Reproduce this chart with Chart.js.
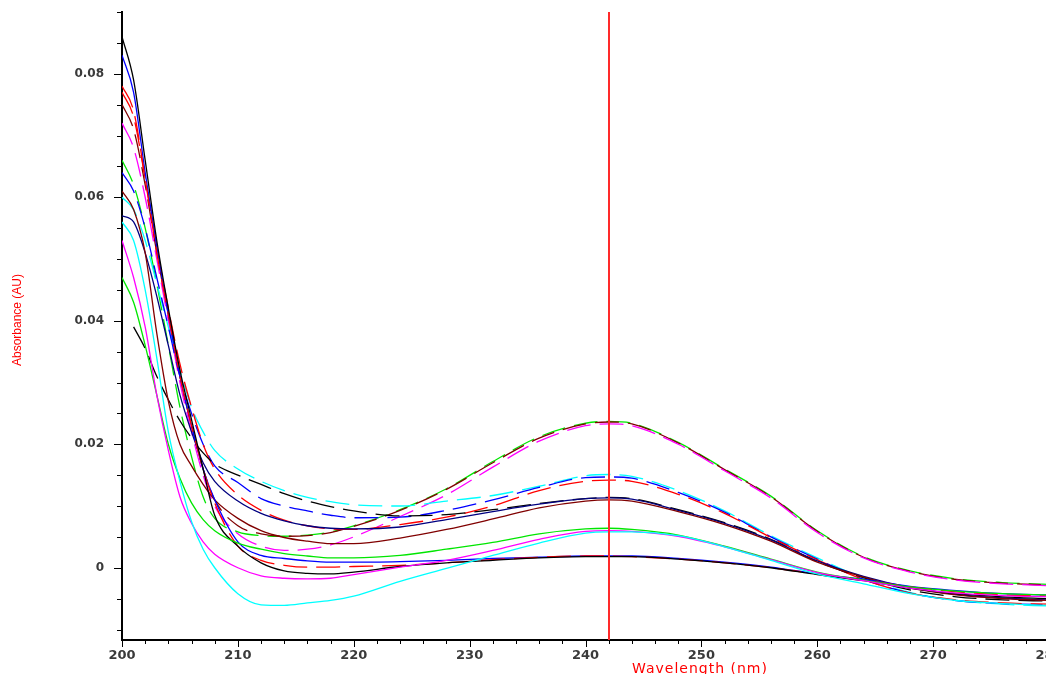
<!DOCTYPE html>
<html>
<head>
<meta charset="utf-8">
<title>UV spectra</title>
<script src="https://cdn.jsdelivr.net/npm/chart.js@4.4.1/dist/chart.umd.min.js"></script>
<style>
  html, body { margin: 0; padding: 0; background: #fff; overflow: hidden; }
  #wrap { width: 1046px; height: 674px; overflow: hidden; }
</style>
</head>
<body>
<div id="wrap"><canvas id="spectra" width="1052" height="682"></canvas></div>
<script>
// Overlay of UV absorbance spectra, cursor at 242 nm

const wavelengths = [200, 201, 202, 203, 204, 205, 206, 207, 208, 210, 212, 214, 216, 218, 220,
  224, 228, 232, 236, 240, 242, 244, 248, 252, 256, 260, 264, 268, 272, 276, 280];

// peak ~0.024
const greenDashed = [0.066, 0.062, 0.055, 0.046, 0.036, 0.026, 0.018, 0.0115, 0.0080, 0.0058, 0.0052, 0.0051, 0.0053, 0.0058, 0.0068,
  0.0094, 0.0128, 0.0172, 0.0212, 0.0234, 0.0237, 0.0234, 0.0203, 0.0160, 0.0116, 0.0060, 0.0018, -0.0005, -0.0018, -0.0024, -0.0027];
const brownDashed = [0.075, 0.071, 0.062, 0.051, 0.041, 0.031, 0.023, 0.016, 0.011, 0.0068, 0.0055, 0.0051, 0.0052, 0.0057, 0.0067,
  0.0093, 0.0127, 0.0170, 0.0210, 0.0233, 0.0236, 0.0233, 0.0202, 0.0159, 0.0115, 0.0059, 0.0017, -0.0006, -0.0019, -0.0025, -0.0028];
const magentaDashed = [0.072, 0.068, 0.060, 0.050, 0.040, 0.030, 0.022, 0.015, 0.010, 0.0055, 0.0035, 0.0028, 0.0030, 0.0037, 0.0050,
  0.0083, 0.0118, 0.0163, 0.0205, 0.0230, 0.0233, 0.0230, 0.0200, 0.0157, 0.0113, 0.0057, 0.0016, -0.0007, -0.0020, -0.0026, -0.0029];

// peak ~0.015
const cyanDashed = [0.060, 0.058, 0.053, 0.046, 0.039, 0.032, 0.026, 0.022, 0.019, 0.0160, 0.0140, 0.0125, 0.0114, 0.0107, 0.0102,
  0.0100, 0.0108, 0.0117, 0.0132, 0.0149, 0.0151, 0.0148, 0.0125, 0.0092, 0.0052, 0.0016, -0.0017, -0.0040, -0.0053, -0.0059, -0.0062];
const blueDashed = [0.064, 0.061, 0.055, 0.047, 0.039, 0.031, 0.025, 0.020, 0.0165, 0.0138, 0.0112, 0.0100, 0.0092, 0.0085, 0.0081,
  0.0082, 0.0093, 0.0110, 0.0130, 0.0146, 0.0147, 0.0145, 0.0122, 0.0090, 0.0050, 0.0014, -0.0019, -0.0041, -0.0053, -0.0058, -0.0060];
const redUpper = [0.077, 0.073, 0.063, 0.052, 0.042, 0.033, 0.026, 0.020, 0.016, 0.0118, 0.0093, 0.0077, 0.0068, 0.0063, 0.0062,
  0.0070, 0.0082, 0.0100, 0.0125, 0.0140, 0.0142, 0.0140, 0.0119, 0.0088, 0.0049, 0.0013, -0.0019, -0.0041, -0.0052, -0.0057, -0.0059];

// peak ~0.011
const navy = [0.057, 0.056, 0.051, 0.044, 0.036, 0.028, 0.022, 0.017, 0.014, 0.0108, 0.0088, 0.0076, 0.0068, 0.0064, 0.0063,
  0.0066, 0.0078, 0.0091, 0.0103, 0.0112, 0.0113, 0.0111, 0.0093, 0.0072, 0.0045, 0.0011, -0.0014, -0.0032, -0.0043, -0.0049, -0.0052];
const brown = [0.061, 0.058, 0.051, 0.038, 0.027, 0.020, 0.0165, 0.0135, 0.011, 0.0080, 0.0060, 0.0049, 0.0043, 0.0039, 0.0039,
  0.0048, 0.0062, 0.0079, 0.0097, 0.0108, 0.0110, 0.0108, 0.0091, 0.0070, 0.0043, 0.0009, -0.0015, -0.0033, -0.0044, -0.0050, -0.0053];
const blackDashed = [null, 0.0390, 0.0355, 0.0310, 0.0272, 0.0238, 0.0210, 0.0186, 0.0168, 0.0150, 0.0135, 0.0120, 0.0108, 0.0099, 0.0092,
  0.0084, 0.0086, 0.0094, 0.0104, 0.0112, 0.0114, 0.0112, 0.0094, 0.0073, 0.0046, 0.0010, -0.0016, -0.0036, -0.0047, -0.0052, -0.0054];

// peak ~0.006
const green = [0.047, 0.043, 0.036, 0.028, 0.020, 0.0145, 0.0105, 0.0078, 0.0060, 0.0040, 0.0030, 0.0023, 0.0019, 0.0016, 0.0016,
  0.0020, 0.0030, 0.0041, 0.0055, 0.0063, 0.0064, 0.0062, 0.0053, 0.0035, 0.0014, -0.0007, -0.0020, -0.0031, -0.0038, -0.0042, -0.0044];
const magenta = [0.053, 0.047, 0.039, 0.028, 0.019, 0.0115, 0.0072, 0.0042, 0.0022, 0.0000, -0.0013, -0.0017, -0.0018, -0.0017, -0.0011,
  0.0001, 0.0012, 0.0028, 0.0046, 0.0059, 0.0060, 0.0059, 0.0051, 0.0034, 0.0013, -0.0008, -0.0021, -0.0033, -0.0041, -0.0045, -0.0047];
const cyan = [0.056, 0.053, 0.045, 0.034, 0.022, 0.014, 0.0075, 0.0030, 0.0000, -0.0042, -0.0060, -0.0061, -0.0057, -0.0053, -0.0046,
  -0.0022, -0.0001, 0.0020, 0.0040, 0.0056, 0.0058, 0.0058, 0.0052, 0.0034, 0.0012, -0.0010, -0.0026, -0.0042, -0.0053, -0.0058, -0.0061];

// peak ~0.002
const black = [0.086, 0.079, 0.066, 0.053, 0.042, 0.032, 0.024, 0.016, 0.0085, 0.0035, 0.0008, -0.0005, -0.0009, -0.0010, -0.0007,
  0.0002, 0.0008, 0.0012, 0.0016, 0.0018, 0.0018, 0.0018, 0.0014, 0.0008, 0.0000, -0.0011, -0.0021, -0.0033, -0.0042, -0.0047, -0.0050];
const blue = [0.083, 0.077, 0.064, 0.052, 0.041, 0.031, 0.023, 0.016, 0.011, 0.0042, 0.0020, 0.0015, 0.0011, 0.0009, 0.0009,
  0.0010, 0.0012, 0.0015, 0.0017, 0.0019, 0.0019, 0.0019, 0.0015, 0.0009, 0.0001, -0.0010, -0.0019, -0.0030, -0.0037, -0.0042, -0.0044];
const redLower = [0.078, 0.074, 0.063, 0.051, 0.041, 0.031, 0.023, 0.016, 0.0105, 0.0035, 0.0012, 0.0004, 0.0001, 0.0001, 0.0002,
  0.0004, 0.0008, 0.0013, 0.0017, 0.0019, 0.0019, 0.0018, 0.0014, 0.0008, 0.0000, -0.0010, -0.0020, -0.0031, -0.0039, -0.0044, -0.0046];

const xTickValues = [200, 210, 220, 230, 240, 250, 260, 270, 280];
const yTickValues = [0, 0.02, 0.04, 0.06, 0.08];
const cursorNm = 242;

const traces = [
  { data: cyan, color: '#00ffff', dashed: false },
  { data: magenta, color: '#ff00ff', dashed: false },
  { data: green, color: '#00e600', dashed: false },
  { data: black, color: '#000000', dashed: false },
  { data: redLower, color: '#ff0000', dashed: true },
  { data: blue, color: '#0000ff', dashed: false },
  { data: brown, color: '#800000', dashed: false },
  { data: navy, color: '#000080', dashed: false },
  { data: blackDashed, color: '#000000', dashed: true },
  { data: redUpper, color: '#ff0000', dashed: true },
  { data: blueDashed, color: '#0000ff', dashed: true },
  { data: cyanDashed, color: '#00ffff', dashed: true },
  { data: magentaDashed, color: '#ff00ff', dashed: true },
  { data: brownDashed, color: '#800000', dashed: true },
  { data: greenDashed, color: '#00e600', dashed: true }
];

const near = (v, step) => Math.abs(v / step - Math.round(v / step)) < 1e-6;

const axisDecor = {
  id: 'axisDecor',
  afterDatasetsDraw(chart) {
    const { ctx, chartArea, scales: { x } } = chart;
    // cursor line
    const cx = Math.round(x.getPixelForValue(cursorNm));
    ctx.save();
    ctx.strokeStyle = '#ff2a2a';
    ctx.lineWidth = 2;
    ctx.beginPath();
    ctx.moveTo(cx, chartArea.top);
    ctx.lineTo(cx, chartArea.bottom);
    ctx.stroke();
    ctx.restore();
  },
  afterDraw(chart) {
    const { ctx, chartArea, scales: { x, y } } = chart;
    ctx.save();
    ctx.strokeStyle = '#000';
    ctx.lineWidth = 1;
    ctx.beginPath();
    x.ticks.forEach(t => {
      const px = Math.round(x.getPixelForValue(t.value)) + 0.5;
      const len = xTickValues.includes(t.value) ? 7 : 4;
      ctx.moveTo(px, chartArea.bottom);
      ctx.lineTo(px, chartArea.bottom + len);
    });
    y.ticks.forEach(t => {
      if (!near(t.value, 0.005)) return;
      const py = Math.round(y.getPixelForValue(t.value)) + 0.5;
      const len = yTickValues.some(v => Math.abs(v - t.value) < 1e-9) ? 8 : 5;
      ctx.moveTo(chartArea.left - len, py);
      ctx.lineTo(chartArea.left, py);
    });
    ctx.stroke();

    // axis titles
    ctx.fillStyle = '#ff0000';
    ctx.textAlign = 'center';
    ctx.textBaseline = 'middle';
    ctx.font = '14px "DejaVu Sans"';
    ctx.letterSpacing = '1px';
    ctx.fillText('Wavelength (nm)', 700, 669);
    ctx.letterSpacing = '0px';
    ctx.translate(18, 320);
    ctx.rotate(-Math.PI / 2);
    ctx.font = '12px "Liberation Sans"';
    ctx.fillText('Absorbance (AU)', 0, 0);
    ctx.restore();
  }
};

new Chart(document.getElementById('spectra'), {
  type: 'line',
  data: {
    datasets: traces.map(tr => ({
      data: wavelengths.map((w, i) => ({ x: w, y: tr.data[i] })),
      borderColor: tr.color,
      borderWidth: 1.3,
      borderDash: tr.dashed ? [24, 9] : [],
      pointRadius: 0,
      fill: false,
      cubicInterpolationMode: 'monotone'
    }))
  },
  options: {
    responsive: false,
    animation: false,
    devicePixelRatio: 1,
    events: [],
    layout: { padding: { top: 12, right: 3, left: 0, bottom: 0 } },
    plugins: { legend: { display: false }, tooltip: { enabled: false } },
    scales: {
      x: {
        type: 'linear',
        min: 200,
        max: 280,
        grid: { display: false, drawTicks: false },
        border: { display: true, color: '#000', width: 2 },
        ticks: {
          stepSize: 2,
          autoSkip: false,
          maxRotation: 0,
          padding: 8,
          color: '#3a3a3a',
          font: { family: 'DejaVu Sans', size: 13, weight: 'bold' },
          callback: v => (xTickValues.includes(v) ? String(v) : '')
        },
        afterFit: s => { s.height = 42; s.paddingLeft = 0; s.paddingRight = 0; }
      },
      y: {
        min: -0.0117,
        max: 0.09,
        grid: { display: false, drawTicks: false },
        border: { display: true, color: '#000', width: 2 },
        ticks: {
          stepSize: 0.005,
          includeBounds: false,
          autoSkip: false,
          padding: 18,
          color: '#3a3a3a',
          font: { family: 'DejaVu Sans', size: 12, weight: 'bold' },
          callback: v => {
            const hit = yTickValues.find(t => Math.abs(t - v) < 1e-9);
            return hit === undefined ? '' : String(hit);
          }
        },
        afterFit: s => { s.width = 122; s.paddingTop = 0; s.paddingBottom = 0; }
      }
    }
  },
  plugins: [axisDecor]
});
</script>
</body>
</html>
